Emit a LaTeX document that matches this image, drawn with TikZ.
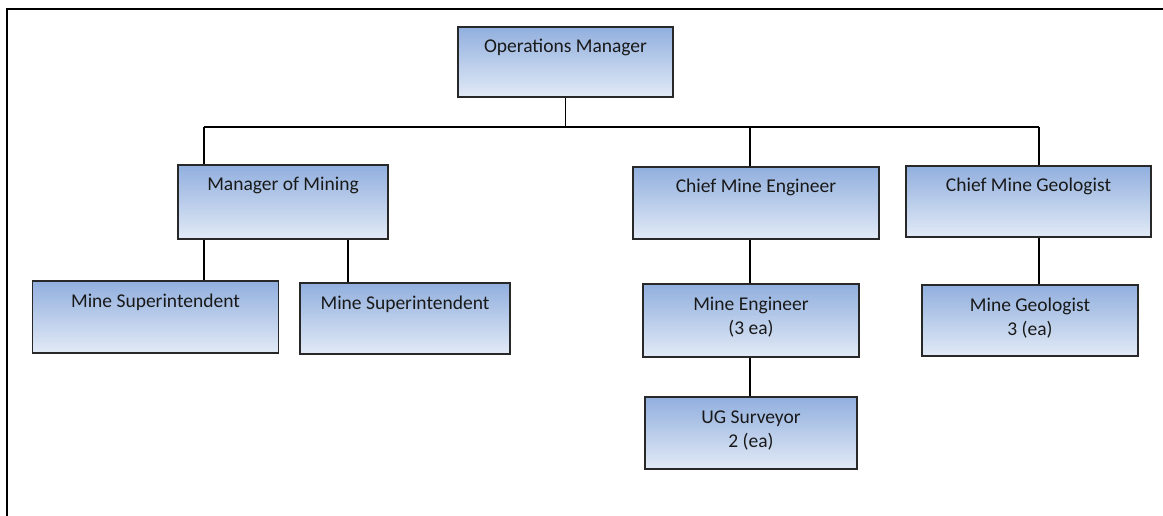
\documentclass[tikz,border=0pt]{standalone}
\usepackage{fontspec}
\setmainfont{Carlito}
\usetikzlibrary{calc}
\definecolor{boxtop}{RGB}{145,175,222}
\definecolor{boxbot}{RGB}{226,234,246}
\definecolor{boxline}{RGB}{40,40,40}
\definecolor{txt}{RGB}{25,25,25}
\tikzset{
  orgbox/.style={rectangle, draw=boxline, line width=1.6pt, top color=boxtop, bottom color=boxbot,
    inner xsep=0pt, inner ysep=0pt, align=center, text=txt,
    font=\fontsize{19.5}{24}\selectfont, text height=26pt},
  twoline/.style={text height=50pt},
  conn/.style={draw=black, line width=1.5pt},
  frame/.style={draw=black, line width=2.2pt}
}
\begin{document}
\begin{tikzpicture}[x=1pt,y=-1pt]
\useasboundingbox (0,0) rectangle (1163,516);
\coordinate (fA) at (1163,9);
\coordinate (fB) at (7,9);
\coordinate (fC) at (7,516);
\draw[frame] (fA) -- (fB) -- (fC);

\node[orgbox, minimum width=215pt, minimum height=70pt, text depth=44pt] (om) at (565.5,62) {Operations Manager};
\node[orgbox, minimum width=210pt, minimum height=74pt, text depth=48pt] (mom) at (283,202) {Manager of Mining};
\node[orgbox, minimum width=246pt, minimum height=72pt, text depth=46pt] (ms1) at (155.5,317) {Mine Superintendent};
\node[orgbox, minimum width=210pt, minimum height=71pt, text depth=45pt] (ms2) at (405,318.5) {Mine Superintendent};
\node[orgbox, minimum width=246pt, minimum height=72pt, text depth=46pt] (cme) at (756,203) {Chief Mine Engineer};
\node[orgbox, minimum width=245pt, minimum height=71pt, text depth=45pt] (cmg) at (1028.5,201.5) {Chief Mine Geologist};
\node[orgbox, twoline, minimum width=216pt, minimum height=73pt, text depth=23pt] (me) at (751,320.5) {Mine Engineer\\(3 ea)};
\node[orgbox, twoline, minimum width=216pt, minimum height=71pt, text depth=21pt] (mg) at (1030,320.5) {Mine Geologist\\3 (ea)};
\node[orgbox, twoline, minimum width=212pt, minimum height=72pt, text depth=22pt] (ug) at (751,433) {UG Surveyor\\2 (ea)};

\coordinate (b1) at (204,127);
\coordinate (b2) at (750,127);
\coordinate (b3) at (1039,127);
\coordinate (m2) at (348,0);

\draw[conn] (om.south) -- (om.south |- b2);
\draw[conn] (b1) -- (b3);
\draw[conn] (b1) -- (b1 |- mom.north);
\draw[conn] (b2) -- (b2 |- cme.north);
\draw[conn] (b3) -- (b3 |- cmg.north);
\draw[conn] (b1 |- mom.south) -- (b1 |- ms1.north);
\draw[conn] (m2 |- mom.south) -- (m2 |- ms2.north);
\draw[conn] (b2 |- cme.south) -- (b2 |- me.north);
\draw[conn] (b2 |- me.south) -- (b2 |- ug.north);
\draw[conn] (b3 |- cmg.south) -- (b3 |- mg.north);
\end{tikzpicture}
\end{document}
